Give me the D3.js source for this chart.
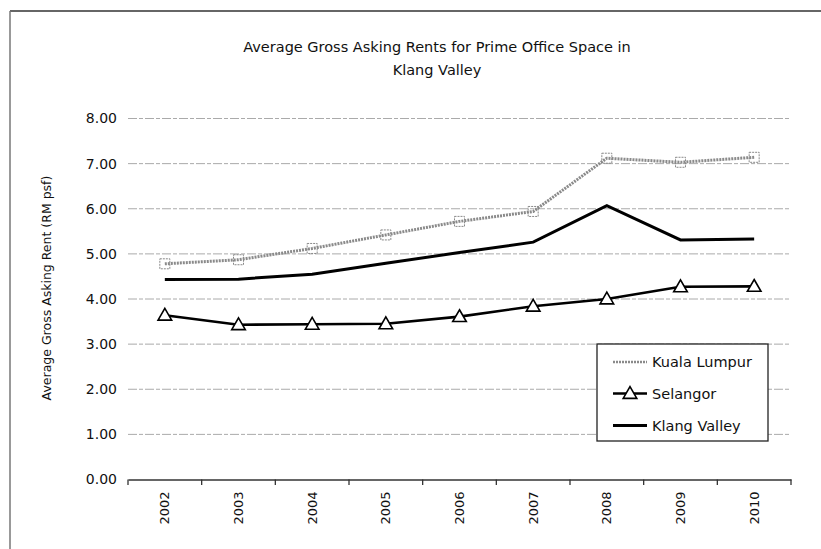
<!DOCTYPE html>
<html><head><meta charset="utf-8">
<script src="https://cdn.jsdelivr.net/npm/d3@7"></script>
<style>body{margin:0;background:#fff}svg{display:block}text{font-family:"DejaVu Sans",sans-serif;fill:#111}</style>
</head><body><div id="chart"></div>
<script>
const years = ["2002","2003","2004","2005","2006","2007","2008","2009","2010"];
const kualaLumpur = [4.78,4.87,5.12,5.42,5.72,5.94,7.12,7.03,7.14];
const selangor = [3.64,3.43,3.44,3.45,3.61,3.84,4.00,4.27,4.28];
const klangValley = [4.43,4.44,4.55,4.79,5.03,5.26,6.07,5.31,5.33];
const yTicks = [0,1,2,3,4,5,6,7,8];
const seriesNames = ["Kuala Lumpur","Selangor","Klang Valley"];
const titleLines = ["Average Gross Asking Rents for Prime Office Space in","Klang Valley"];
const yTitle = "Average Gross Asking Rent (RM psf)";

const W=821,H=549;
const svg=d3.select("#chart").append("svg").attr("width",W).attr("height",H);
// frame
svg.append("line").attr("x1",10).attr("x2",W).attr("y1",11).attr("y2",11).attr("stroke","#333").attr("stroke-width",1.5);
svg.append("line").attr("x1",10).attr("x2",10).attr("y1",11).attr("y2",H).attr("stroke","#777").attr("stroke-width",1.5);

const x=d3.scaleBand().domain(years).range([128,791]);
const y=d3.scaleLinear().domain([0,8]).range([479.5,118.5]);
const cx=d=>x(d)+x.bandwidth()/2;

// title
titleLines.forEach((t,i)=>svg.append("text").attr("x",437).attr("y",52+i*23).attr("text-anchor","middle").attr("font-size",14.5).text(t));

// gridlines
svg.append("g").selectAll("line").data(yTicks.filter(v=>v>0)).join("line")
 .attr("x1",128).attr("x2",791).attr("y1",d=>y(d)).attr("y2",d=>y(d))
 .attr("stroke","#aaa").attr("stroke-width",1).attr("stroke-dasharray","9,2,4,2");

// y axis labels
const yAx=svg.append("g").attr("transform","translate(128,0)").call(d3.axisLeft(y).tickValues(yTicks).tickFormat(d3.format(".2f")).tickSize(0).tickPadding(11));
yAx.select(".domain").remove();
yAx.selectAll("text").attr("font-size",14).attr("font-family","DejaVu Sans, sans-serif").attr("fill","#111");

// x axis
const xAx=svg.append("g").attr("transform","translate(0,479.5)").call(d3.axisBottom(x).tickSize(0));
xAx.select(".domain").attr("stroke","#333").attr("stroke-width",1.3);
xAx.selectAll(".tick text").attr("font-size",13).attr("font-family","DejaVu Sans, sans-serif").attr("fill","#111")
 .attr("transform","rotate(-90)").attr("text-anchor","end").attr("x",-12).attr("y",0).attr("dy","0.35em");
svg.append("g").selectAll("line").data(d3.range(years.length+1)).join("line")
 .attr("x1",i=>128+i*x.step()).attr("x2",i=>128+i*x.step()).attr("y1",479.5).attr("y2",485)
 .attr("stroke","#333").attr("stroke-width",1.3);

// y title
svg.append("text").attr("transform","translate(47,288) rotate(-90)").attr("text-anchor","middle").attr("font-size",12.5).attr("dy","0.35em").text(yTitle);

const line=d3.line().x((d,i)=>cx(years[i])).y(d=>y(d));
// Klang Valley
svg.append("path").datum(klangValley).attr("d",line).attr("fill","none").attr("stroke","#000").attr("stroke-width",3);
// Selangor
svg.append("path").datum(selangor).attr("d",line).attr("fill","none").attr("stroke","#000").attr("stroke-width",2.6);
const tri=d3.symbol().type(d3.symbolTriangle).size(80);
svg.append("g").selectAll("path").data(selangor).join("path")
 .attr("d",tri).attr("transform",(d,i)=>`translate(${cx(years[i])},${y(d)+1})`)
 .attr("fill","#fff").attr("stroke","#000").attr("stroke-width",1.6);
// Kuala Lumpur
svg.append("path").datum(kualaLumpur).attr("d",line).attr("fill","none").attr("stroke","#8a8a8a").attr("stroke-width",3).attr("stroke-dasharray","2,1");
svg.append("g").selectAll("rect").data(kualaLumpur).join("rect")
 .attr("x",(d,i)=>cx(years[i])-5).attr("y",d=>y(d)-5).attr("width",10).attr("height",10)
 .attr("fill","none").attr("stroke","#888").attr("stroke-width",1).attr("stroke-dasharray","2,1");

// legend
const lg=svg.append("g");
lg.append("rect").attr("x",597).attr("y",344).attr("width",171).attr("height",97).attr("fill","#fff").attr("stroke","#222").attr("stroke-width",1.3);
const ly=[362,393.5,425.5];
seriesNames.forEach((n,i)=>{
  const l=lg.append("line").attr("x1",613).attr("x2",647).attr("y1",ly[i]).attr("y2",ly[i]);
  if(i===0) l.attr("stroke","#8a8a8a").attr("stroke-width",2.5).attr("stroke-dasharray","2,1");
  else l.attr("stroke","#000").attr("stroke-width",i===1?2.6:3);
  if(i===1) lg.append("path").attr("d",tri).attr("transform",`translate(630,${ly[i]+1})`).attr("fill","#fff").attr("stroke","#000").attr("stroke-width",1.6);
  lg.append("text").attr("x",652).attr("y",ly[i]).attr("dy","0.35em").attr("font-size",14.5).text(n);
});
</script></body></html>
